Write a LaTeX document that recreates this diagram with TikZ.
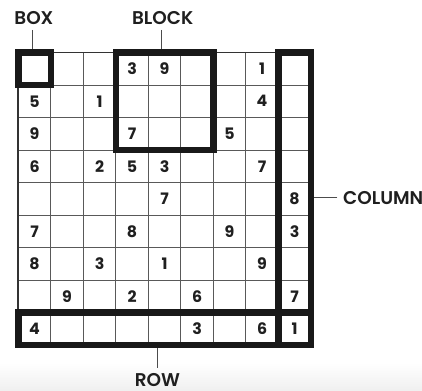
\documentclass[tikz,border=0pt]{standalone}
\usepackage{fontspec}
\setmainfont{Poppins}[UprightFont=* Medium,BoldFont=* SemiBold]
\newfontface\heavy{Poppins Bold}
\begin{document}
\begin{tikzpicture}[x=0.65cm,y=0.65cm,
  lbl/.style={font=\bfseries\fontsize{10.5}{12}\selectfont,text=black!88,inner sep=3pt},
  num/.style={font=\heavy\fontsize{9}{11}\selectfont,text=black!88,inner sep=0pt},
  conn/.style={draw=black!70,line width=0.6pt},
  hl/.style={draw=black!90,line width=3.7pt}]
\useasboundingbox (-0.563,-1.385) rectangle (12.42,10.615);
\shade[top color=white,bottom color=black!6] (-0.563,-1.385) rectangle (12.42,-0.55);
% grid
\draw[step=1,black!65,line width=0.55pt] (0,0) grid (9,9);
\draw[black!80,line width=1.1pt] (0,0) rectangle (9,9);
% givens: column/row from top/digit
\foreach \c/\r/\d in {4/1/3,5/1/9,8/1/1,
    1/2/5,3/2/1,8/2/4,
    1/3/9,4/3/7,7/3/5,
    1/4/6,3/4/2,4/4/5,5/4/3,8/4/7,
    5/5/7,9/5/8,
    1/6/7,4/6/8,7/6/9,9/6/3,
    1/7/8,3/7/3,5/7/1,8/7/9,
    2/8/9,4/8/2,6/8/6,9/8/7,
    1/9/4,6/9/3,8/9/6,9/9/1}
  \node[num] (n-\c-\r) at (\c-0.5,9.5-\r) {\d};
% labels
\coordinate (boxtop) at (0.45,9);
\coordinate (blocktop) at (4.4,9);
\coordinate (colright) at (9,4.53);
\coordinate (rowbot) at (4.28,0);
\node[lbl] (boxlbl) at (0.48,10.07) {BOX};
\node[lbl] (blocklbl) at (4.44,10.07) {BLOCK};
\node[lbl,anchor=west] (collbl) at (9.82,4.53) {COLUMN};
\node[lbl] (rowlbl) at (4.28,-1.07) {ROW};
\draw[conn] (boxlbl.south -| boxtop) -- (boxtop);
\draw[conn] (blocklbl.south -| blocktop) -- (blocktop);
\draw[conn] (collbl.west) -- (colright);
\draw[conn] (rowlbl.north -| rowbot) -- (rowbot);
% highlighted regions
\draw[hl] (0,8) rectangle (1,9);
\draw[hl] (3,6) rectangle (6,9);
\draw[hl] (8,0) rectangle (9,9);
\draw[hl] (0,0) rectangle (9,1);
\end{tikzpicture}
\end{document}
